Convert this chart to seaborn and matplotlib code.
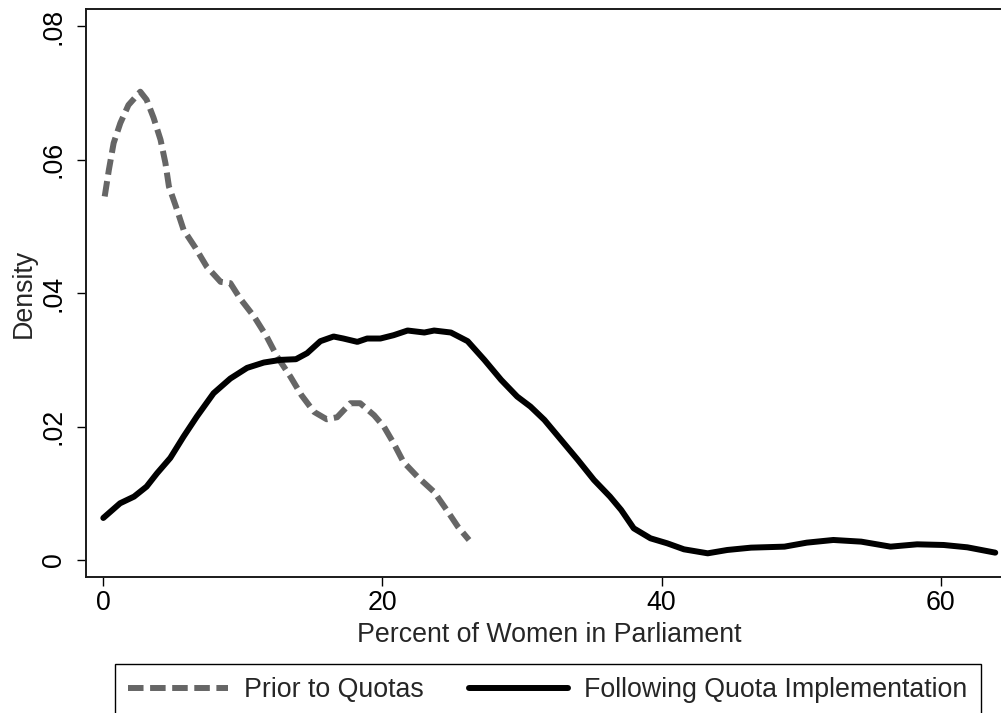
# Kernel density of women's share in parliament, before and after quotas

import pandas as pd
import matplotlib.pyplot as plt
import seaborn as sns

sns.set_style("ticks")
plt.rcParams['font.family'] = ['Liberation Sans', 'DejaVu Sans']

# ---- data ----
prior_x = [0.1, 0.4, 0.74, 1.22, 1.8, 2.65, 3.1, 3.6, 4.1, 4.45, 4.7, 5.2, 5.75,
           6.6, 7.4, 8.4, 9.1, 9.8, 10.8, 11.7, 12.45, 13.4, 14.2, 15.1, 16.0,
           16.75, 17.7, 18.4, 19.4, 20.1, 20.8, 21.5, 22.5, 23.7, 24.6, 25.4, 26.2]
prior_y = [0.0545, 0.0585, 0.0625, 0.0655, 0.0682, 0.0702, 0.069, 0.0663, 0.063,
           0.0595, 0.056, 0.053, 0.0495, 0.0468, 0.044, 0.0417, 0.0415, 0.0392,
           0.0365, 0.0335, 0.0305, 0.0275, 0.0247, 0.0222, 0.0211, 0.0214, 0.0235,
           0.0235, 0.0217, 0.020, 0.0175, 0.0147, 0.0125, 0.0102, 0.0075, 0.005, 0.003]

after_x = [0.0, 1.2, 2.2, 3.1, 3.85, 4.8, 5.75, 6.7, 7.9, 9.1, 10.3, 11.5, 12.7,
           13.8, 14.6, 15.55, 16.5, 17.2, 18.2, 18.9, 19.85, 20.8, 21.8, 23.0,
           23.7, 24.9, 26.1, 27.3, 28.5, 29.65, 30.6, 31.6, 32.8, 34.0, 35.15,
           36.3, 37.1, 38.0, 39.2, 40.4, 41.6, 43.3, 44.7, 46.4, 48.8, 50.4, 52.3,
           54.3, 56.4, 58.3, 60.2, 61.9, 63.9]
after_y = [0.0063, 0.0085, 0.0095, 0.011, 0.013, 0.0153, 0.0185, 0.0215, 0.025,
           0.0272, 0.0288, 0.0296, 0.030, 0.0301, 0.031, 0.0328, 0.0335, 0.0332,
           0.0327, 0.0332, 0.0332, 0.0337, 0.0344, 0.0341, 0.0344, 0.0341, 0.0328,
           0.030, 0.027, 0.0245, 0.023, 0.021, 0.018, 0.015, 0.012, 0.0095, 0.0075,
           0.00475, 0.00325, 0.0025, 0.0016, 0.001, 0.0015, 0.00185, 0.002, 0.0026,
           0.003, 0.00275, 0.002, 0.00235, 0.00225, 0.0019, 0.0011]

x_ticks = [0, 20, 40, 60]
y_ticks = [0, 0.02, 0.04, 0.06, 0.08]
y_tick_labels = ['0', '.02', '.04', '.06', '.08']

prior = pd.DataFrame({'pct': prior_x, 'density': prior_y})
after = pd.DataFrame({'pct': after_x, 'density': after_y})

FS = 19.3

# ---- plot ----
fig = plt.figure(figsize=(10.01, 7.13), dpi=100)
ax = fig.add_axes([86 / 1001, 136 / 713, 926 / 1001, 568 / 713])

sns.lineplot(data=prior, x='pct', y='density', sort=False, estimator=None,
             color='#666666', linewidth=4.3, dashes=False, label='Prior to Quotas',
             legend=False, ax=ax)
ax.lines[-1].set_dashes((2.6, 1.1))
ax.lines[-1].set_dash_capstyle('butt')
sns.lineplot(data=after, x='pct', y='density', sort=False, estimator=None,
             color='black', linewidth=4.3, label='Following Quota Implementation',
             legend=False, ax=ax)

ax.set_xlim(-1.24, 65.1)
ax.set_ylim(-0.00255, 0.0826)
ax.set_xticks(x_ticks)
ax.set_yticks(y_ticks)
ax.set_yticklabels(y_tick_labels, rotation=90, va='center')
ax.tick_params(axis='both', direction='out', length=6.5, width=1, color='black',
               labelsize=FS, labelcolor='black')
ax.tick_params(axis='x', pad=2.5)
ax.tick_params(axis='y', pad=7.5)

ax.set_xlabel('Percent of Women in Parliament', fontsize=FS, labelpad=5)
ax.set_ylabel('Density', fontsize=FS, labelpad=2.5)

for side in ['left', 'bottom', 'top']:
    ax.spines[side].set_color('#1a1a1a')
    ax.spines[side].set_linewidth(1.4)
ax.spines['right'].set_visible(False)

handles, labels = ax.get_legend_handles_labels()
leg = fig.legend(handles, labels, loc='upper left', ncol=2,
                 bbox_to_anchor=(115 / 1001, 1 - 664 / 713), borderaxespad=0,
                 fontsize=FS, handlelength=3.7, handletextpad=0.6,
                 columnspacing=1.7, borderpad=0.5, fancybox=False,
                 frameon=True, framealpha=1, edgecolor='black')
leg.get_frame().set_linewidth(1.0)

fig.savefig('out.png', dpi=100)
